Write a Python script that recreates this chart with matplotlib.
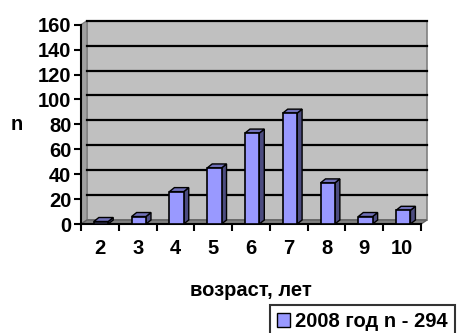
import matplotlib.pyplot as plt
import numpy as np
from matplotlib.patches import Polygon, Rectangle
from matplotlib.transforms import ScaledTranslation

plt.rcParams['font.family'] = ['Liberation Sans', 'DejaVu Sans']
plt.rcParams['font.weight'] = 'bold'

# данные
ages = ['2', '3', '4', '5', '6', '7', '8', '9', '10']
counts = [2, 6, 26, 45, 73, 89, 33, 6, 11]
yticks = [0, 20, 40, 60, 80, 100, 120, 140, 160]
series_label = '2008 год n - 294'

W, H, DPI = 462, 333, 100
fig = plt.figure(figsize=(W / DPI, H / DPI), dpi=DPI)
fig.set_facecolor('white')
FS = 14.5

# оси (в пикселях картинки)
x0, x1, y0, y1 = 81, 421, 224, 24.7
ax = fig.add_axes([x0 / W, (H - y0) / H, (x1 - x0) / W, (y0 - y1) / H])
ax.set_facecolor('none')
ax.set_xlim(-0.5, len(ages) - 0.5)
ax.set_ylim(0, 160)

# смещение "глубины" стенки
wx, wy = 6, 4
off = ScaledTranslation(wx / DPI, wy / DPI, fig.dpi_scale_trans)

# задняя стенка
wall = Rectangle((0, 0), 1, 1, transform=ax.transAxes + off, facecolor='#c0c0c0',
                 edgecolor='#808080', lw=1.2, clip_on=False, zorder=0)
ax.add_patch(wall)
# левая боковая стенка
fx = wx / (x1 - x0)
fy = wy / (y0 - y1)
side = Polygon([(0, 0), (fx, fy), (fx, 1 + fy), (0, 1)], closed=True, transform=ax.transAxes,
               facecolor='#a0a0a0', edgecolor='#808080', lw=1, clip_on=False, zorder=0.5)
ax.add_patch(side)
# пол
floor = Polygon([(0, 0), (1, 0), (1 + fx, fy), (fx, fy)], closed=True, transform=ax.transAxes,
                facecolor='#808080', edgecolor='#606060', lw=1, clip_on=False, zorder=0.6)
ax.add_patch(floor)

# сетка на задней стенке
for t in yticks[1:]:
    ax.plot([0, 1], [t, t], transform=ax.get_yaxis_transform() + off, color='black',
            lw=1.6, clip_on=False, zorder=1)

# столбики с псевдо-3D
xs = np.arange(len(ages)) + 0.03
bw = 0.38
ddx = 5 / ((x1 - x0) / len(ages))
ddy = 4 / ((y0 - y1) / 160)
ax.bar(xs, counts, width=bw, color='#9999ff', edgecolor='black', lw=1.2, zorder=3)
for x, v in zip(xs, counts):
    l, r = x - bw / 2, x + bw / 2
    ax.add_patch(Polygon([(r, 0), (r + ddx, ddy), (r + ddx, v + ddy), (r, v)], closed=True,
                         facecolor='#4c4c80', edgecolor='black', lw=1.0, zorder=2.9))
    ax.add_patch(Polygon([(l, v), (r, v), (r + ddx, v + ddy), (l + ddx, v + ddy)], closed=True,
                         facecolor='#7070b8', edgecolor='black', lw=1.0, zorder=2.9))

for s in ['top', 'right']:
    ax.spines[s].set_visible(False)
ax.spines['left'].set_linewidth(1.5)
ax.spines['bottom'].set_linewidth(1.5)

ax.set_yticks(yticks)
ax.tick_params(axis='y', length=5, width=1.5, labelsize=FS, pad=2)
ax.set_xticks(np.arange(len(ages) + 1) - 0.5)
ax.set_xticklabels([])
ax.tick_params(axis='x', which='major', length=5, width=1.5)
ax.set_xticks(np.arange(len(ages)), minor=True)
ax.set_xticklabels(ages, minor=True, fontsize=FS)
ax.tick_params(axis='x', which='minor', length=0, pad=11)

fig.text(17 / W, 1 - 125 / H, 'n', fontsize=FS, ha='center', va='center')
fig.text(251 / W, 1 - 290 / H, 'возраст, лет', fontsize=FS, ha='center', va='center')

leg = fig.legend([Rectangle((0, 0), 1, 1, facecolor='#9999ff', edgecolor='black')],
                 [series_label], loc='upper left', bbox_to_anchor=(270 / W, 1 - 305 / H),
                 fontsize=FS, frameon=True, fancybox=False, borderpad=0.35,
                 handlelength=0.65, handleheight=0.65, handletextpad=0.25, borderaxespad=0)
leg.get_frame().set_edgecolor('black')
leg.get_frame().set_linewidth(1.5)

fig.savefig('out.png', dpi=DPI)
